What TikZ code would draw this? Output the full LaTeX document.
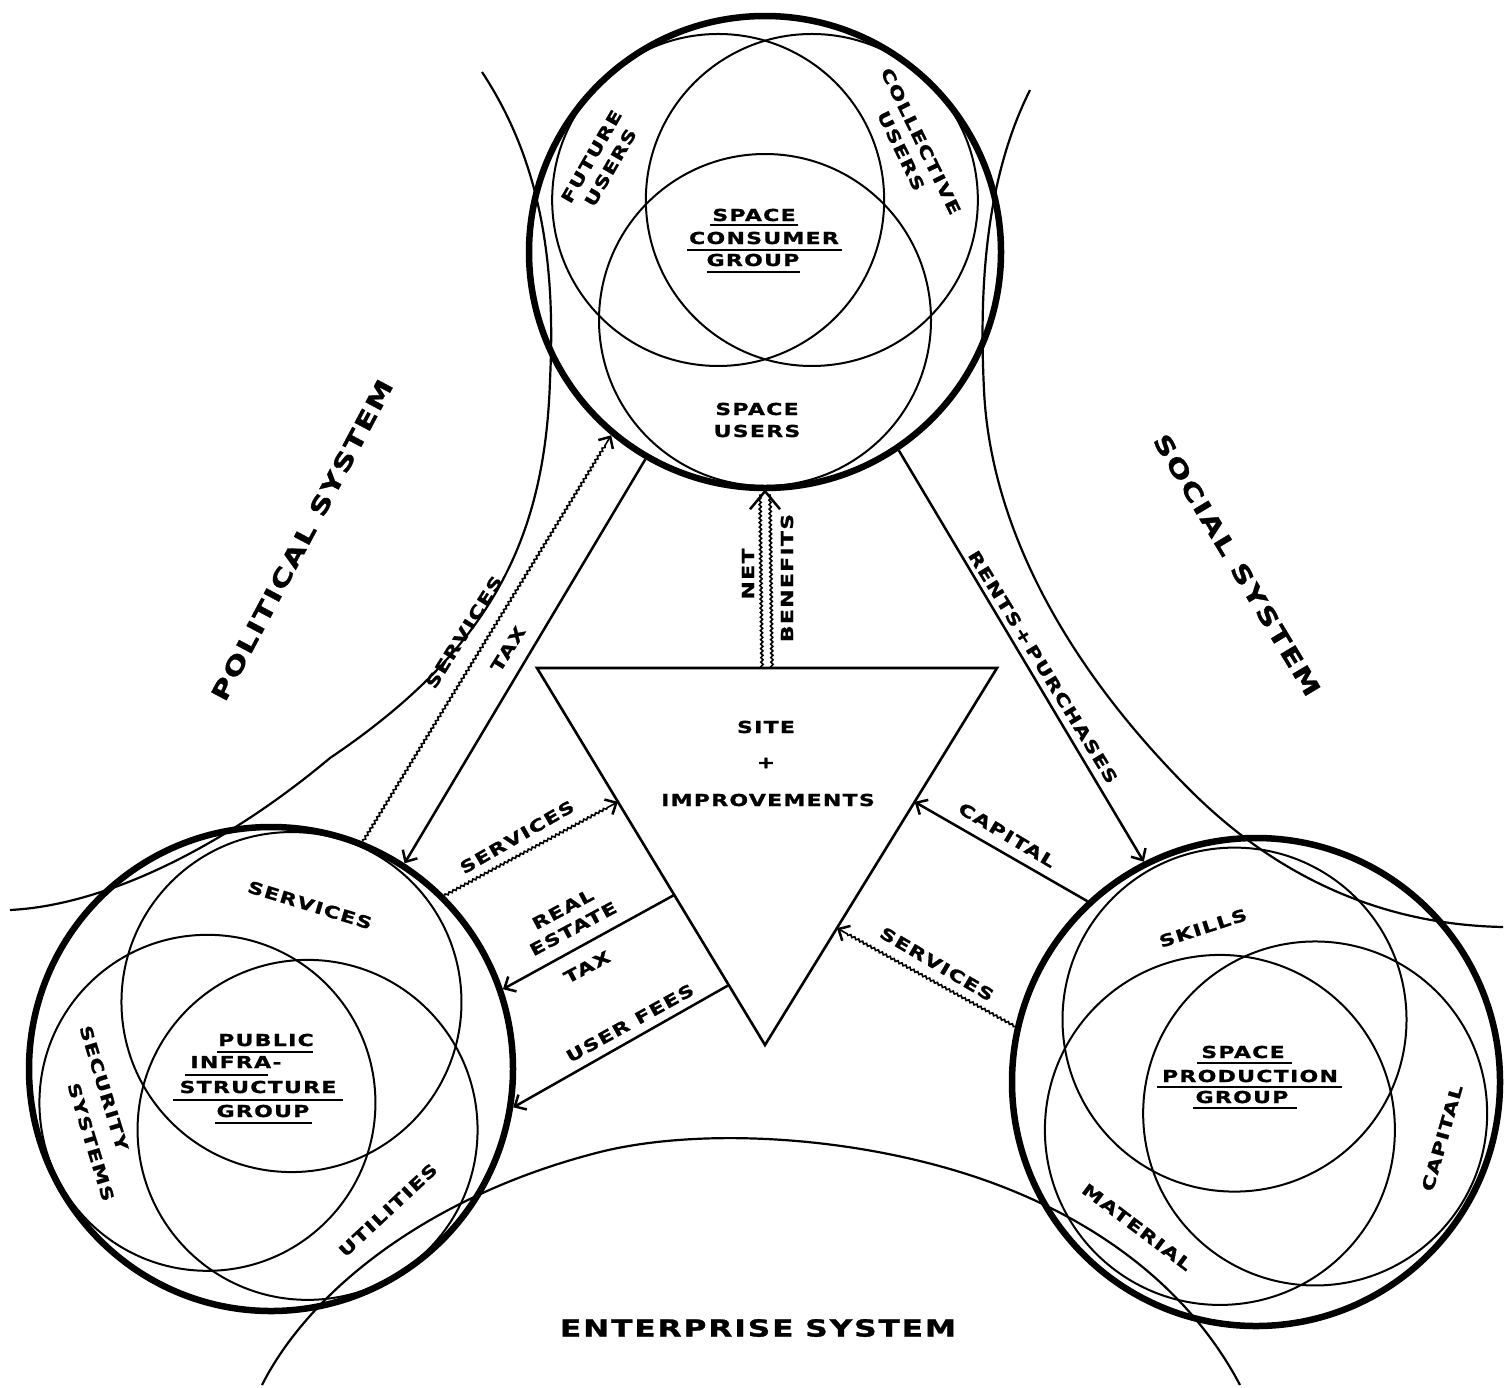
\documentclass[tikz,border=0pt]{standalone}
\usepackage{fontspec}
\newfontfamily\lblfont[FakeStretch=1.33,LetterSpace=8,FakeBold=1.2]{DejaVu Sans Bold}
\usetikzlibrary{arrows.meta,decorations.pathmorphing,calc}
\begin{document}
\begin{tikzpicture}[x=1pt,y=-1pt,
  grp/.style={draw, circle, line width=6.5pt, inner sep=0pt},
  venn/.style={line width=2pt},
  sys/.style={line width=2.2pt},
  flow/.style={line width=2.5pt, -{Straight Barb[length=9pt,width=17pt]}},
  wavy/.style={line width=1.6pt, -{Straight Barb[length=9pt,width=17pt,line width=2.5pt]}, decorate, decoration={snake, amplitude=1.1pt, segment length=4.5pt, post length=10pt}},
  wavyplain/.style={line width=1.6pt, decorate, decoration={snake, amplitude=1.1pt, segment length=4.5pt}},
  lbl/.style={font=\lblfont\fontsize{16.5}{22}\selectfont, inner sep=0pt, align=center},
  big/.style={font=\lblfont\fontsize{23.5}{28}\selectfont, inner sep=0pt},
  ul/.style={line width=1.6pt}
]
\useasboundingbox (0,0) rectangle (1504,1387);
\fill[white] (0,0) rectangle (1504,1387);

% system boundary curves
\draw[sys] (482,72) .. controls (540,160) and (556,260) .. (550,380)
  .. controls (545,540) and (490,650) .. (330,758)
  .. controls (230,842) and (110,905) .. (10,910);
\draw[sys] (1030,90) .. controls (990,170) and (978,270) .. (984,390)
  .. controls (990,520) and (1060,660) .. (1190,790)
  .. controls (1290,890) and (1400,925) .. (1503,927);
\draw[sys] (262,1385) .. controls (310,1290) and (430,1195) .. (600,1152)
  .. controls (700,1127) and (860,1135) .. (990,1182)
  .. controls (1100,1222) and (1190,1290) .. (1240,1385);

% group circles
\node[grp, minimum size=472pt] (topG) at (765,252) {};
\node[grp, minimum size=484pt] (leftG) at (271,1069) {};
\node[grp, minimum size=488pt] (rightG) at (1256,1082) {};

% venn circles
\draw[venn] ($(topG.center)+(132:70pt)$) circle[radius=166pt];
\draw[venn] ($(topG.center)+(48:70pt)$) circle[radius=166pt];
\draw[venn] ($(topG.center)+(270:68pt)$) circle[radius=166pt];
\draw[venn] ($(leftG.center)+(73:70pt)$) circle[radius=170pt];
\draw[venn] ($(leftG.center)+(208:72pt)$) circle[radius=168pt];
\draw[venn] ($(leftG.center)+(301:71pt)$) circle[radius=170pt];
\draw[venn] ($(rightG.center)+(109:66pt)$) circle[radius=172pt];
\draw[venn] ($(rightG.center)+(233:60pt)$) circle[radius=175pt];
\draw[venn] ($(rightG.center)+(332:67pt)$) circle[radius=172pt];

% central triangle
\coordinate (tl) at (537,668);
\coordinate (tr) at (997,668);
\coordinate (tb) at (765,1045);
\draw[line width=2.6pt, line join=miter] (tl) -- (tr) -- (tb) -- cycle;
\coordinate (sL1) at ($(tl)!0.355!(tb)$);
\coordinate (sL2) at ($(tl)!0.602!(tb)$);
\coordinate (sL3) at ($(tl)!0.841!(tb)$);
\coordinate (sR1) at ($(tr)!0.355!(tb)$);
\coordinate (sR2) at ($(tr)!0.69!(tb)$);
\coordinate (nbB) at ($(tl)!0.5!(tr)$);
\coordinate (nbT) at (topG.270);

% flows
\draw[wavy] (leftG.68) -- (topG.230);
\draw[flow] (topG.240) -- (leftG.57);
\draw[wavy] (leftG.45) -- (sL1);
\draw[flow] (sL2) -- (leftG.19);
\draw[flow] (sL3) -- (leftG.-9);
\draw[flow] (topG.304) -- (rightG.117);
\draw[flow] (rightG.133) -- (sR1);
\draw[wavy] (rightG.167) -- (sR2);
\draw[wavyplain] ([xshift=-5pt]nbB) -- ([xshift=-5pt,yshift=-3pt]nbT);
\draw[wavyplain] ([xshift=5pt]nbB) -- ([xshift=5pt,yshift=-3pt]nbT);
\draw[line width=2.5pt] ([shift={(-15pt,-18pt)}]nbT) -- (nbT) -- ([shift={(15pt,-18pt)}]nbT);

% system labels
\node[big, rotate=62] (polS) at (302,540) {POLITICAL SYSTEM};
\node[big, rotate=-59] (socS) at (1237,565) {SOCIAL SYSTEM};
\node[big] (entS) at (758,1328) {ENTERPRISE\hspace{0.5em}SYSTEM};

% top group labels
\node[lbl, rotate=60] (fut) at (601,162) {FUTURE\\USERS};
\node[lbl, rotate=-64] (col) at (911,146) {COLLECTIVE\\USERS};
\node[lbl] (sc1) at (754,215) {SPACE};
\node[lbl] (sc2) at (764,238) {CONSUMER};
\node[lbl] (sc3) at (753,260) {GROUP};
\draw[ul] (710,225) -- (798,225);
\draw[ul] (687,250) -- (842,250);
\draw[ul] (707,272) -- (800,272);
\node[lbl] (su) at (757,420) {SPACE\\USERS};

% left group labels
\node[lbl, rotate=-17] (lserv) at (310,905) {SERVICES};
\node[lbl, rotate=-73] (lsec) at (104,1088) {SECURITY};
\node[lbl, rotate=-73] (lsys) at (91,1142) {SYSTEMS};
\node[lbl, rotate=43] (lutil) at (388,1210) {UTILITIES};
\node[lbl] (pi1) at (266,1040) {PUBLIC};
\node[lbl] (pi2) at (236,1062) {INFRA-};
\node[lbl] (pi3) at (258,1087) {STRUCTURE};
\node[lbl] (pi4) at (263,1111) {GROUP};
\draw[ul] (217,1052) -- (313,1052);
\draw[ul] (185,1075) -- (268,1075);
\draw[ul] (173,1100) -- (343,1100);
\draw[ul] (215,1123) -- (312,1123);

% right group labels
\node[lbl, rotate=18] (rskill) at (1203,928) {SKILLS};
\node[lbl] (sp1) at (1243,1052) {SPACE};
\node[lbl] (sp2) at (1250,1076) {PRODUCTION};
\node[lbl] (sp3) at (1242,1097) {GROUP};
\draw[ul] (1197,1063) -- (1292,1063);
\draw[ul] (1157,1087) -- (1342,1087);
\draw[ul] (1193,1108) -- (1297,1108);
\node[lbl, rotate=-37] (rmat) at (1137,1227) {MATERIAL};
\node[lbl, rotate=74] (rcap) at (1442,1138) {CAPITAL};

% flow labels
\node[lbl, rotate=58] (f1) at (464,632) {SERVICES};
\node[lbl, rotate=58] (f2) at (508,649) {TAX};
\node[lbl, rotate=90] (f3) at (748,574) {NET};
\node[lbl, rotate=90] (f4) at (787,578) {BENEFITS};
\node[lbl, rotate=30] (f5) at (517,837) {SERVICES};
\node[lbl, rotate=28] (f6) at (568,919) {REAL\\ESTATE};
\node[lbl, rotate=28] (f7) at (587,967) {TAX};
\node[lbl, rotate=29] (f8) at (630,1023) {USER FEES};
\node[lbl, rotate=-58.5] (f9) at (1043,667) {RENTS\,+\,PURCHASES};
\node[lbl, rotate=-31] (f10) at (1007,835) {CAPITAL};
\node[lbl, rotate=-30.5] (f11) at (937,964) {SERVICES};

% triangle labels
\node[lbl] (t1) at (766,727) {SITE};
\node[lbl] (t2) at (766,763) {+};
\node[lbl] (t3) at (768,800) {IMPROVEMENTS};
\end{tikzpicture}
\end{document}
